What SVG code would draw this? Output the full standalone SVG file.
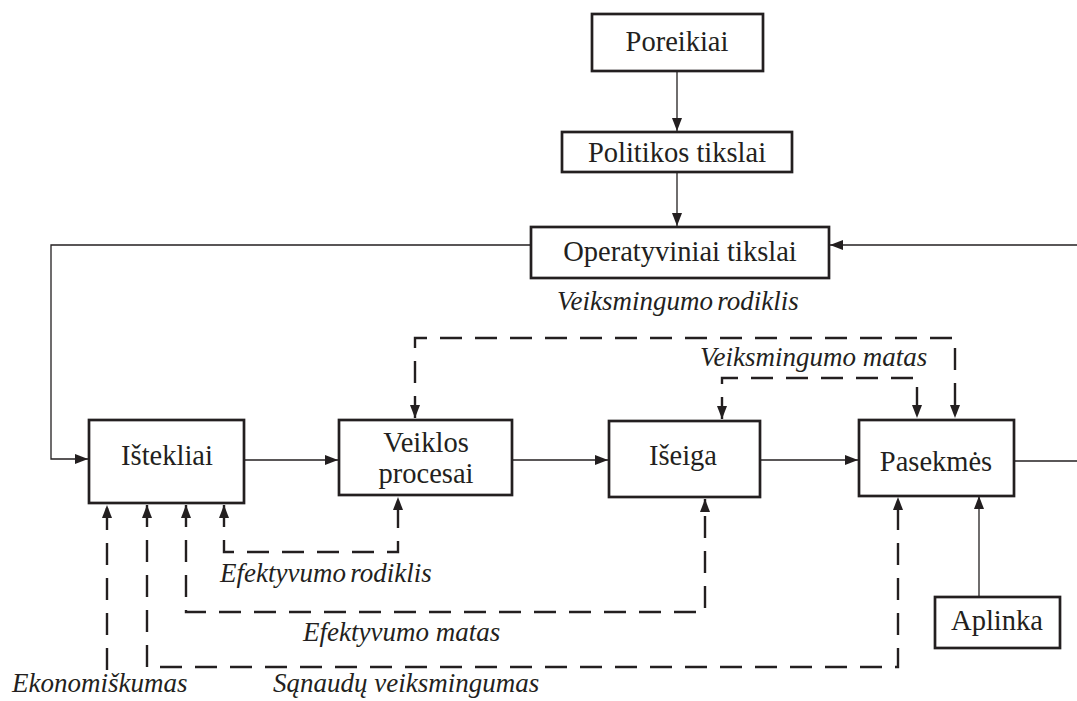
<svg xmlns="http://www.w3.org/2000/svg" width="1077" height="701" viewBox="0 0 1077 701">
<style>
.box{fill:#fff;stroke:#231f20;stroke-width:2.7}
.t{font-family:"Liberation Serif","DejaVu Serif",serif;font-size:28.5px;fill:#231f20;text-anchor:middle}
.it{font-family:"Liberation Serif","DejaVu Serif",serif;font-size:27px;font-style:italic;fill:#231f20}
.tight{word-spacing:-2.5px}
.sl{fill:none;stroke:#231f20;stroke-width:1.3}
.dl{fill:none;stroke:#231f20;stroke-width:2.4;stroke-dasharray:22 13}
</style>
<defs>
<marker id="ah" markerUnits="userSpaceOnUse" markerWidth="14" markerHeight="10" refX="13" refY="5" orient="auto-start-reverse">
<path d="M0,0 L13,5 L0,10 Z" fill="#231f20"/>
</marker>
</defs>
<g id="connectors">
<line class="sl" x1="677" y1="71" x2="677" y2="131" marker-end="url(#ah)"/>
<line class="sl" x1="677" y1="172" x2="677" y2="226" marker-end="url(#ah)"/>
<polyline class="sl" points="531,245 51,245 51,459 88,459" marker-end="url(#ah)"/>
<line class="sl" x1="1077" y1="245" x2="830" y2="245" marker-end="url(#ah)"/>
<line class="sl" x1="244" y1="460" x2="338" y2="460" marker-end="url(#ah)"/>
<line class="sl" x1="512" y1="460" x2="608" y2="460" marker-end="url(#ah)"/>
<line class="sl" x1="760" y1="460" x2="858" y2="460" marker-end="url(#ah)"/>
<line class="sl" x1="1014" y1="461" x2="1077" y2="461"/>
<line class="sl" x1="979" y1="597" x2="979" y2="496" marker-end="url(#ah)"/>
<polyline class="dl" points="415,418 415,338 955,338 955,418" marker-start="url(#ah)" marker-end="url(#ah)"/>
<polyline class="dl" points="722,419 722,378 917,378 917,418" marker-start="url(#ah)" marker-end="url(#ah)"/>
<polyline class="dl" points="224,505 224,552 398,552 398,497" marker-start="url(#ah)" marker-end="url(#ah)"/>
<polyline class="dl" points="186,505 186,612 705,612 705,499" marker-start="url(#ah)" marker-end="url(#ah)"/>
<polyline class="dl" points="147,505 147,667 898,667 898,497" marker-start="url(#ah)" marker-end="url(#ah)"/>
<line class="dl" x1="107" y1="670" x2="107" y2="505" marker-end="url(#ah)"/>
</g>
<g id="poreikiai"><rect class="box" x="592" y="14" width="171" height="57"/><text class="t" x="677" y="51">Poreikiai</text></g>
<g id="politikos"><rect class="box" x="562" y="132" width="230" height="40"/><text class="t" x="677" y="162">Politikos tikslai</text></g>
<g id="operatyviniai"><rect class="box" x="531" y="227" width="298" height="51"/><text class="t" x="680" y="261">Operatyviniai tikslai</text></g>
<g id="istekliai"><rect class="box" x="89" y="420" width="155" height="83"/><text class="t" x="167" y="465">Ištekliai</text></g>
<g id="veiklos"><rect class="box" x="339" y="420" width="173" height="75"/><text class="t" x="426" y="452">Veiklos</text><text class="t" x="426" y="483">procesai</text></g>
<g id="iseiga"><rect class="box" x="609" y="421" width="151" height="76"/><text class="t" x="683" y="465">Išeiga</text></g>
<g id="pasekmes"><rect class="box" x="859" y="420" width="155" height="76"/><text class="t" x="936" y="471">Pasekmės</text></g>
<g id="aplinka"><rect class="box" x="935" y="597" width="125" height="51"/><text class="t" x="997" y="630">Aplinka</text></g>
<g id="labels">
<text class="it tight" x="557" y="310">Veiksmingumo rodiklis</text>
<text class="it" x="700" y="366">Veiksmingumo matas</text>
<text class="it tight" x="220" y="582">Efektyvumo rodiklis</text>
<text class="it" x="303" y="641">Efektyvumo matas</text>
<text class="it" x="12" y="692">Ekonomiškumas</text>
<text class="it" x="273" y="692">Sąnaudų veiksmingumas</text>
</g>
</svg>
